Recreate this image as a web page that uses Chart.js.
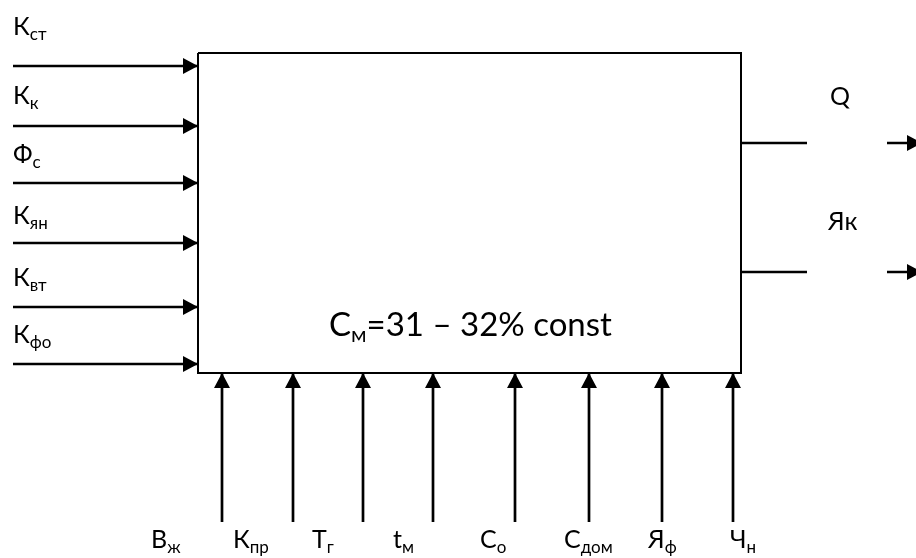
<!DOCTYPE html>
<html>
<head>
<meta charset="utf-8">
<script src="https://cdn.jsdelivr.net/npm/chart.js@4"></script>
<style>
  html, body { margin: 0; padding: 0; background: #fff; }
  canvas { display: block; }
</style>
</head>
<body>
<canvas id="myChart" width="916" height="558"></canvas>
<script>
// Diagram values, in diagram units (same scale as the page)
const leftInputs = ['К', 'К', 'Ф', 'К', 'К', 'К'];
const leftInputSubs = ['ст', 'к', 'с', 'ян', 'вт', 'фо'];
const leftArrowY = [66, 126, 183, 243, 307, 364];
const leftLabelY = [35, 104, 163, 224, 286, 343];

const bottomInputs = ['В', 'К', 'Т', 't', 'С', 'С', 'Я', 'Ч'];
const bottomInputSubs = ['ж', 'пр', 'г', 'м', 'о', 'дом', 'ф', 'н'];
const bottomArrowX = [222, 293, 363, 433, 515, 589, 662, 733];
const bottomLabelX = [151, 233, 312, 393, 480, 564, 648, 730];

const outputs = ['Q', 'Як'];
const outputY = [143, 272];
const outputLabelX = [830, 828];
const outputLabelY = [105, 230];

const boxX = [198, 741];
const boxY = [53, 373];
const centerText = ['С', 'м', '=31 – 32% const'];

const leftStartX = 13;
const bottomStartY = 522;
const outStubEnd = 807;
const outArrowX = [887, 922];
const labelBottomY = 548;

const black = '#000';
const fontFamily = 'Lato, "Open Sans", sans-serif';

// build datasets
const datasets = [];
datasets.push({
  data: [
    { x: boxX[0], y: boxY[0] }, { x: boxX[1], y: boxY[0] },
    { x: boxX[1], y: boxY[1] }, { x: boxX[0], y: boxY[1] },
    { x: boxX[0], y: boxY[0] }
  ],
  borderWidth: 2
});
leftArrowY.forEach(y => {
  datasets.push({ data: [{ x: leftStartX, y: y }, { x: boxX[0], y: y }], arrow: true });
});
bottomArrowX.forEach(x => {
  datasets.push({ data: [{ x: x, y: bottomStartY }, { x: x, y: boxY[1] }], arrow: true });
});
outputY.forEach(y => {
  datasets.push({ data: [{ x: boxX[1], y: y }, { x: outStubEnd, y: y }] });
  datasets.push({ data: [{ x: outArrowX[0], y: y }, { x: outArrowX[1], y: y }], arrow: true });
});
datasets.forEach(ds => {
  ds.showLine = true;
  ds.borderColor = black;
  ds.borderWidth = ds.borderWidth || 2.7;
  ds.pointRadius = 0;
  ds.borderCapStyle = 'butt';
  ds.clip = false;
});

// arrow heads at the last point of flagged datasets
const arrowHeads = {
  id: 'arrowHeads',
  afterDatasetsDraw(chart) {
    const ctx = chart.ctx;
    chart.data.datasets.forEach((ds, i) => {
      if (!ds.arrow) return;
      const pts = chart.getDatasetMeta(i).data;
      const a = pts[pts.length - 2], b = pts[pts.length - 1];
      const ang = Math.atan2(b.y - a.y, b.x - a.x);
      const len = 15, half = 8;
      ctx.save();
      ctx.translate(b.x, b.y);
      ctx.rotate(ang);
      ctx.beginPath();
      ctx.moveTo(0, 0);
      ctx.lineTo(-len, -half);
      ctx.lineTo(-len, half);
      ctx.closePath();
      ctx.fillStyle = black;
      ctx.fill();
      ctx.restore();
    });
  }
};

// text with subscripts
function drawSub(ctx, x, y, main, sub, size) {
  ctx.font = size + 'px ' + fontFamily;
  ctx.fillText(main, x, y);
  const w = ctx.measureText(main).width;
  const subSize = Math.round(size * 0.66);
  ctx.font = subSize + 'px ' + fontFamily;
  ctx.fillText(sub, x + w, y + size * 0.18);
  return x + w + ctx.measureText(sub).width;
}

const labels = {
  id: 'labels',
  afterDraw(chart) {
    const ctx = chart.ctx;
    const sx = chart.scales.x, sy = chart.scales.y;
    ctx.save();
    ctx.fillStyle = black;
    ctx.textAlign = 'left';
    ctx.textBaseline = 'alphabetic';
    leftInputs.forEach((m, i) => {
      drawSub(ctx, sx.getPixelForValue(leftStartX), sy.getPixelForValue(leftLabelY[i]), m, leftInputSubs[i], 25);
    });
    bottomInputs.forEach((m, i) => {
      drawSub(ctx, sx.getPixelForValue(bottomLabelX[i]), sy.getPixelForValue(labelBottomY), m, bottomInputSubs[i], 25);
    });
    ctx.font = '25px ' + fontFamily;
    outputs.forEach((t, i) => {
      ctx.fillText(t, sx.getPixelForValue(outputLabelX[i]), sy.getPixelForValue(outputLabelY[i]));
    });
    const end = drawSub(ctx, sx.getPixelForValue(329), sy.getPixelForValue(336), centerText[0], centerText[1], 33);
    ctx.font = '33px ' + fontFamily;
    ctx.fillText(centerText[2], end, sy.getPixelForValue(336));
    ctx.restore();
  }
};

const ctx = document.getElementById('myChart').getContext('2d');
const myChart = new Chart(ctx, {
  type: 'scatter',
  data: { datasets: datasets },
  options: {
    responsive: false,
    animation: false,
    layout: { padding: 0 },
    plugins: { legend: { display: false }, tooltip: { enabled: false } },
    scales: {
      x: { type: 'linear', min: 0, max: 916, display: false },
      y: { type: 'linear', min: 0, max: 558, reverse: true, display: false }
    }
  },
  plugins: [arrowHeads, labels]
});
</script>
</body>
</html>
